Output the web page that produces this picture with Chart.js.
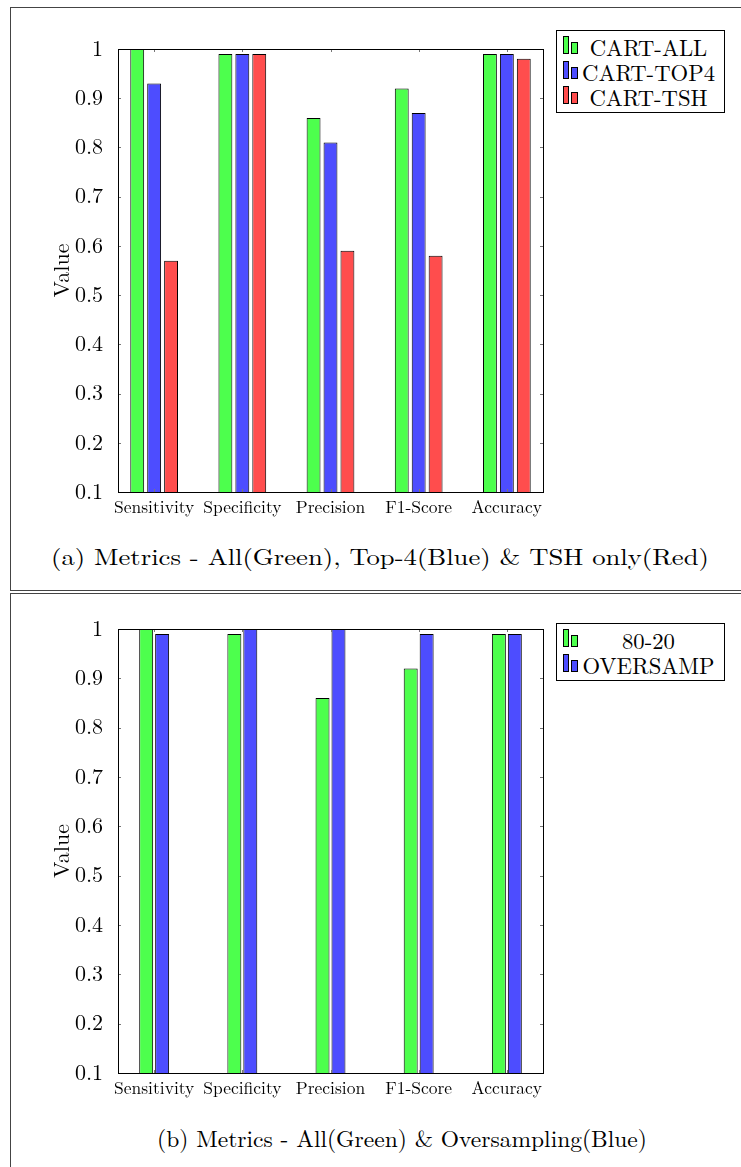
<!DOCTYPE html>
<html>
<head>
<meta charset="utf-8">
<script src="https://cdn.jsdelivr.net/npm/chart.js@4.4.0/dist/chart.umd.min.js"></script>
<style>
  body { margin: 0; background: #fff; width: 741px; height: 1167px; overflow: hidden; position: relative; font-family: "Latin Modern Roman", "Liberation Serif", serif; color: #000; }
  .panel { position: absolute; left: 10px; width: 800px; border: 1px solid #444; }
  #p1 { top: 7px; height: 582px; }
  #p2 { top: 593px; height: 700px; }
  canvas { position: absolute; left: 0; }
  #c1 { top: 0; }
  #c2 { top: 580px; }
  .legend { position: absolute; left: 556px; width: 167px; border: 1px solid #000; background: #fff; font-size: 22.7px; padding: 3px 0 3px; }
  .legend .row { position: relative; height: 25px; line-height: 25px; text-align: center; padding-left: 16px; white-space: nowrap; }
  .legend .ic { position: absolute; border: 1px solid #000; box-sizing: border-box; }
  .caption { position: absolute; white-space: nowrap; font-size: 23px; transform: translate(-50%, -50%); }
  #capA { transform: translate(-50%, -50%) scaleX(1.16); }
  #capB { font-size: 23.5px; }
</style>
</head>
<body>
<div class="panel" id="p1"></div>
<div class="panel" id="p2"></div>
<canvas id="c1" width="560" height="530"></canvas>
<canvas id="c2" width="560" height="531"></canvas>
<div class="legend" id="l1" style="top:30px"></div>
<div class="legend" id="l2" style="top:623px"></div>
<div class="caption" id="capA" style="left:380px; top:555px">(a) Metrics - All(Green), Top-4(Blue) &amp; TSH only(Red)</div>
<div class="caption" id="capB" style="left:402px; top:1137px">(b) Metrics - All(Green) &amp; Oversampling(Blue)</div>
<script>
const categories = ['Sensitivity', 'Specificity', 'Precision', 'F1-Score', 'Accuracy'];
const yTickValues = [0.1, 0.2, 0.3, 0.4, 0.5, 0.6, 0.7, 0.8, 0.9, 1];
const yTickLabels = ['0.1', '0.2', '0.3', '0.4', '0.5', '0.6', '0.7', '0.8', '0.9', '1'];

// (a) feature subsets
const cartAll  = [1.00, 0.99, 0.86, 0.92, 0.99];
const cartTop4 = [0.93, 0.99, 0.81, 0.87, 0.99];
const cartTsh  = [0.57, 0.99, 0.59, 0.58, 0.98];

// (b) split vs oversampling
const split8020 = [1.00, 0.99, 0.86, 0.92, 0.99];
const oversamp  = [0.99, 1.00, 1.00, 0.99, 0.99];

const GREEN = '#4dff4d', BLUE = '#4d4dff', RED = '#ff4d4d';
const FONT = '"Latin Modern Roman", "Liberation Serif", serif';

// box around the plot area plus the small inward ticks
const frame = {
  id: 'frame',
  afterDatasetsDraw(chart) {
    const { ctx, chartArea: a, scales: { x, y } } = chart;
    ctx.save();
    ctx.strokeStyle = '#777';
    ctx.lineWidth = 1;
    ctx.beginPath();
    y.ticks.forEach(t => {
      const py = Math.round(y.getPixelForValue(t.value)) + 0.5;
      ctx.moveTo(a.left, py); ctx.lineTo(a.left + 3, py);
      ctx.moveTo(a.right, py); ctx.lineTo(a.right - 3, py);
    });
    x.ticks.forEach(t => {
      const px = Math.round(x.getPixelForValue(t.value)) + 0.5;
      ctx.moveTo(px, a.top); ctx.lineTo(px, a.top + 3);
      ctx.moveTo(px, a.bottom); ctx.lineTo(px, a.bottom - 3);
    });
    ctx.stroke();
    ctx.strokeStyle = '#000';
    ctx.strokeRect(Math.round(a.left) + 0.5, Math.round(a.top) + 0.5,
      Math.round(a.right - a.left), Math.round(a.bottom - a.top));
    ctx.restore();
  }
};

function makeChart(id, series, names, colors, catPct, barPct) {
  return new Chart(document.getElementById(id), {
    type: 'bar',
    data: {
      datasets: series.map((vals, i) => ({
        label: names[i],
        data: vals.map((v, k) => ({ x: k + 1, y: v })),
        backgroundColor: colors[i],
        borderColor: '#000',
        borderWidth: 1,
        borderSkipped: false,
        categoryPercentage: catPct,
        barPercentage: barPct
      }))
    },
    options: {
      responsive: false,
      animation: false,
      layout: { padding: { top: 49, right: 17, left: 0, bottom: 0 } },
      plugins: { legend: { display: false }, tooltip: { enabled: false } },
      scales: {
        x: {
          type: 'linear',
          min: 0.59,
          max: 5.41,
          offset: false,
          grid: { display: false },
          border: { display: false },
          afterBuildTicks: s => { s.ticks = categories.map((c, k) => ({ value: k + 1 })); },
          afterFit: s => { s.height = 38; },
          ticks: {
            callback: (v, i) => categories[i],
            autoSkip: false,
            maxRotation: 0,
            padding: -3,
            color: '#000',
            font: { family: FONT, size: 17.5 }
          }
        },
        y: {
          min: 0.1,
          max: 1,
          grid: { display: false },
          border: { display: false },
          afterBuildTicks: s => { s.ticks = yTickValues.map(v => ({ value: v })); },
          afterFit: s => { s.width = 118; },
          ticks: {
            callback: (v, i) => yTickLabels[i],
            padding: 7,
            color: '#000',
            font: { family: FONT, size: 22 }
          },
          title: {
            display: true,
            text: 'Value',
            color: '#000',
            font: { family: FONT, size: 22 },
            padding: { top: 49, bottom: 0 }
          }
        }
      }
    },
    plugins: [frame]
  });
}

function makeLegend(id, names, colors) {
  const box = document.getElementById(id);
  names.forEach((n, i) => {
    const row = document.createElement('div');
    row.className = 'row';
    row.textContent = n;
    const a = document.createElement('span');
    a.className = 'ic';
    a.style.cssText = `left:6px;top:2px;width:6px;height:18px;background:${colors[i]}`;
    const b = document.createElement('span');
    b.className = 'ic';
    b.style.cssText = `left:14px;top:8px;width:7px;height:12px;background:${colors[i]}`;
    row.appendChild(a);
    row.appendChild(b);
    box.appendChild(row);
  });
}

const namesA = ['CART-ALL', 'CART-TOP4', 'CART-TSH'];
const namesB = ['80-20', 'OVERSAMP'];

makeChart('c1', [cartAll, cartTop4, cartTsh], namesA, [GREEN, BLUE, RED], 0.576, 0.82);
makeChart('c2', [split8020, oversamp], namesB, [GREEN, BLUE], 0.362, 0.875);
makeLegend('l1', namesA, [GREEN, BLUE, RED]);
makeLegend('l2', namesB, [GREEN, BLUE]);
</script>
</body>
</html>
